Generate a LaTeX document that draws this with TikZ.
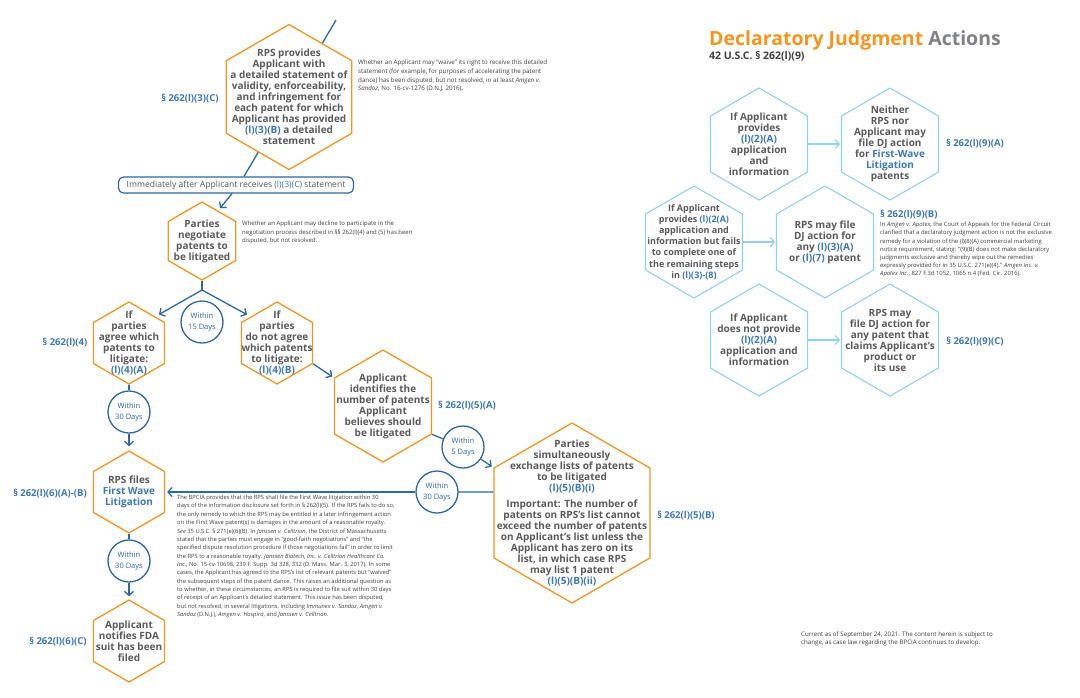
\documentclass[tikz,border=0pt]{standalone}
\usepackage{fontspec}
\setmainfont{Open Sans}
\usepackage{xcolor}
\usepackage{tikz}
\usetikzlibrary{arrows.meta,positioning,shapes.geometric,backgrounds}
\definecolor{bpOrange}{HTML}{F7941D}
\definecolor{bpBlue}{HTML}{2C68A5}
\definecolor{bpRef}{HTML}{3C78BE}
\definecolor{bpSky}{HTML}{8FD2EF}
\definecolor{bpGrey}{HTML}{5A5B5D}
\definecolor{bpDark}{HTML}{414143}
\definecolor{bpTitleGrey}{HTML}{808285}
\newcommand{\lref}[1]{\textcolor{bpRef}{#1}}

\begin{document}
\begin{tikzpicture}[x=1pt,y=-1pt,
  hexo/.style={regular polygon,regular polygon sides=6,shape border rotate=30,
    draw=bpOrange,line width=1.3pt,fill=white,inner sep=0pt,minimum size=#1},
  hexs/.style={hexo=#1,draw=bpSky,line width=1.1pt},
  htext/.style={align=center,text=bpGrey,inner sep=0pt,font=\fontsize{10}{11}\selectfont\bfseries},
  secref/.style={text=bpRef,inner sep=0pt,font=\fontsize{9.5}{11}\selectfont\bfseries},
  within/.style={circle,draw=bpBlue,line width=1.3pt,fill=white,minimum size=42pt,inner sep=0pt,
    align=center,text=bpBlue,font=\fontsize{7.5}{11}\selectfont},
  conn/.style={draw=bpBlue,line width=1.3pt},
  arr/.style={-{Straight Barb[length=4pt,width=9pt]}},
  lconn/.style={draw=bpSky,line width=1.1pt,-{Straight Barb[length=4pt,width=9pt]}},
  note/.style={anchor=north west,align=left,inner sep=0pt,text=bpDark,font=\fontsize{6}{8.5}\selectfont}]
\useasboundingbox (0,0) rectangle (1080,697);

% ---------- patent dance, left column ----------
\node[hexo=145] (rps) at (289,97) {};
\node[htext] (rpst) at (rps) {RPS provides\\Applicant with\\a detailed statement of\\validity, enforceability,\\and infringement for\\each patent for which\\Applicant has provided\\\lref{(l)(3)(B)} a detailed\\statement};
\node[secref] (s3c) at (190,99) {§ 262(l)(3)(C)};
\node[note,font=\fontsize{6.2}{8.6}\selectfont] (nwaive) at (358,60) {Whether an Applicant may “waive” its right to receive this detailed\\statement (for example, for purposes of accelerating the patent\\dance) has been disputed, but not resolved, in at least \textit{Amgen v.}\\\textit{Sandoz}, No. 16-cv-1276 (D.N.J. 2016).};

\node[draw=bpBlue,line width=1.2pt,rounded corners=5pt,fill=white,minimum width=235pt,minimum height=16pt,
  inner sep=0pt,text=bpGrey,font=\fontsize{8.6}{9}\selectfont] (imm) at (236,185)
  {Immediately after Applicant receives \lref{(l)(3)(C)} statement};

\node[hexo=78] (neg) at (202,241) {};
\node[htext] (negt) at (neg) {Parties\\negotiate\\patents to\\be litigated};
\node[note] (ndecl) at (242,221) {Whether an Applicant may decline to participate in the\\negotiation process described in §§ 262(l)(4) and (5) has been\\disputed, but not resolved.};

\coordinate (split) at (202,290);
\node[within] (w15) at (202,322) {Within\\15 Days};

\node[hexo=82] (agree) at (129,343) {};
\node[htext] (agreet) at (agree) {If\\parties\\agree which\\patents to\\litigate:\\\lref{(l)(4)(A)}};
\node[secref] (s4) at (65,343) {§ 262(l)(4)};

\node[hexo=82] (nagree) at (277,343) {};
\node[htext] (nagreet) at (nagree) {If\\parties\\do not agree\\which patents\\to litigate:\\\lref{(l)(4)(B)}};

\node[hexo=112] (ident) at (383,406) {};
\node[htext] (identt) at (ident) {Applicant\\identifies the\\number of patents\\Applicant\\believes should\\be litigated};
\node[secref] (s5a) at (467,406) {§ 262(l)(5)(A)};

\node[within] (w5) at (463,447) {Within\\5 Days};

\node[hexo=180] (sim) at (572,513) {};
\node[htext] (simt) at (sim) {Parties\\simultaneously\\exchange lists of patents\\to be litigated\\\lref{(l)(5)(B)(i)}\\[5pt]Important: The number of\\patents on RPS’s list cannot\\exceed the number of patents\\on Applicant’s list unless the\\Applicant has zero on its\\list, in which case RPS\\may list 1 patent\\\lref{(l)(5)(B)(ii)}};
\node[secref] (s5b) at (686,516) {§ 262(l)(5)(B)};

\node[within] (w30r) at (437,492) {Within\\30 Days};
\node[within] (w30a) at (129,412) {Within\\30 Days};

\node[hexo=82] (rpsf) at (129,492) {};
\node[htext] (rpsft) at (rpsf) {RPS files\\\lref{First Wave}\\\lref{Litigation}};
\node[secref] (s6ab) at (50,494) {§ 262(l)(6)(A)-(B)};

\node[note,font=\fontsize{5.8}{8.35}\selectfont] (nfirst) at (177,495) {The BPCIA provides that the RPS shall file the First Wave litigation within 30\\days of the information disclosure set forth in § 262(l)(5). If the RPS fails to do so,\\the only remedy to which the RPS may be entitled in a later infringement action\\on the First Wave patent(s) is damages in the amount of a reasonable royalty.\\\textit{See} 35 U.S.C. § 271(e)(6)(B). In \textit{Janssen v. Celltrion}, the District of Massachusetts\\stated that the parties must engage in “good-faith negotiations” and “the\\specified dispute resolution procedure if those negotiations fail” in order to limit\\the RPS to a reasonable royalty. \textit{Janssen Biotech, Inc. v. Celltrion Healthcare Co.}\\\textit{Inc.}, No. 15-cv-10698, 239 F. Supp. 3d 328, 332 (D. Mass. Mar. 3, 2017). In some\\cases, the Applicant has agreed to the RPS’s list of relevant patents but “waived”\\the subsequent steps of the patent dance. This raises an additional question as\\to whether, in these circumstances, an RPS is required to file suit within 30 days\\of receipt of an Applicant’s detailed statement. This issue has been disputed,\\but not resolved, in several litigations, including \textit{Immunex v. Sandoz}, \textit{Amgen v.}\\\textit{Sandoz} (D.N.J.), \textit{Amgen v. Hospira}, and \textit{Janssen v. Celltrion}.};

\node[within] (w30b) at (129,561) {Within\\30 Days};

\node[hexo=82] (notify) at (129,641) {};
\node[htext] (notifyt) at (notify) {Applicant\\notifies FDA\\suit has been\\filed};
\node[secref] (s6c) at (58,642) {§ 262(l)(6)(C)};

% connectors of the dance
\coordinate (topin) at (336,20);
\begin{scope}[on background layer]
  \fill[white] (0,0) rectangle (1080,697);
  \draw[conn] (topin) -- ([xshift=8pt]imm.north);
\end{scope}
\draw[conn,arr,shorten >=3pt] ([xshift=-4pt]imm.south) -- (neg.62);
\draw[conn] (neg.-90) -- (split);
\draw[conn,arr,shorten >=4pt] (split) -- (agree.45);
\draw[conn,arr,shorten >=4pt] (split) -- (nagree.135);
\draw[conn,arr,shorten >=2pt] (nagree.-30) -- (ident.150);
\draw[conn] (ident.-30) -- (w5);
\draw[conn,arr,shorten >=2pt] (w5) -- (sim.150);
\draw[conn] (sim.165) -- (w30r);
\draw[conn,arr,shorten >=2pt] (w30r) -- (rpsf.0);
\draw[conn] (agree.-90) -- (w30a);
\draw[conn,arr,shorten >=4pt] (w30a) -- (rpsf.90);
\draw[conn] (rpsf.-90) -- (w30b);
\draw[conn,arr,shorten >=3pt] (w30b) -- (notify.90);

% ---------- declaratory judgment, right ----------
\node[anchor=west,inner sep=0pt,font=\fontsize{19.5}{21}\selectfont\bfseries] (title) at (709,40)
  {\textcolor{bpOrange}{Declaratory Judgment} \textcolor{bpTitleGrey}{Actions}};
\node[anchor=west,inner sep=0pt,text=bpDark,font=\fontsize{10.5}{11}\selectfont\bfseries] (subt) at (709,56) {42 U.S.C. § 262(l)(9)};

\node[hexs=112] (dja) at (759,144) {};
\node[htext] (djat) at (dja) {If Applicant\\provides\\\lref{(l)(2)(A)}\\application\\and\\information};
\node[hexs=112] (djb) at (890,144) {};
\node[htext] (djbt) at (djb) {Neither\\RPS nor\\Applicant may\\file DJ action\\for \lref{First-Wave}\\\lref{Litigation}\\patents};
\node[secref] (s9a) at (975,144) {§ 262(l)(9)(A)};

\node[hexs=112] (djc) at (694,242) {};
\node[htext,font=\fontsize{9}{11.2}\selectfont\bfseries] (djct) at (djc) {If Applicant\\provides \lref{(l)(2(A)}\\application and\\information but fails\\to complete one of\\the remaining steps\\in \lref{(l)(3)-(8)}};
\node[hexs=112] (djd) at (825,242) {};
\node[htext] (djdt) at (djd) {RPS may file\\DJ action for\\any \lref{(l)(3)(A)}\\or \lref{(l)(7)} patent};
\node[secref,anchor=west] (s9b) at (880,215) {§ 262(l)(9)(B)};
\node[note,font=\fontsize{5.9}{8.2}\selectfont] (napotex) at (880,222) {In \textit{Amgen v. Apotex}, the Court of Appeals for the Federal Circuit\\clarified that a declaratory judgment action is not the exclusive\\remedy for a violation of the (l)(8)(A) commercial marketing\\notice requirement, stating: “(9)(B) does not make declaratory\\judgments exclusive and thereby wipe out the remedies\\expressly provided for in 35 U.S.C. 271(e)(4).” \textit{Amgen Inc. v.}\\\textit{Apotex Inc.}, 827 F.3d 1052, 1065 n.4 (Fed. Cir. 2016).};

\node[hexs=112] (dje) at (759,340) {};
\node[htext] (djet) at (dje) {If Applicant\\does not provide\\\lref{(l)(2)(A)}\\application and\\information};
\node[hexs=112] (djf) at (890,340) {};
\node[htext] (djft) at (djf) {RPS may\\file DJ action for\\any patent that\\claims Applicant’s\\product or\\its use};
\node[secref] (s9c) at (975,342) {§ 262(l)(9)(C)};

\draw[lconn,shorten >=1pt] (dja) -- (djb);
\draw[lconn,shorten >=1pt] (djc) -- (djd);
\draw[lconn,shorten >=1pt] (dje) -- (djf);

\node[note,font=\fontsize{6.2}{8}\selectfont] (ncurrent) at (801,632) {Current as of September 24, 2021. The content herein is subject to\\change, as case law regarding the BPCIA continues to develop.};
\end{tikzpicture}
\end{document}
